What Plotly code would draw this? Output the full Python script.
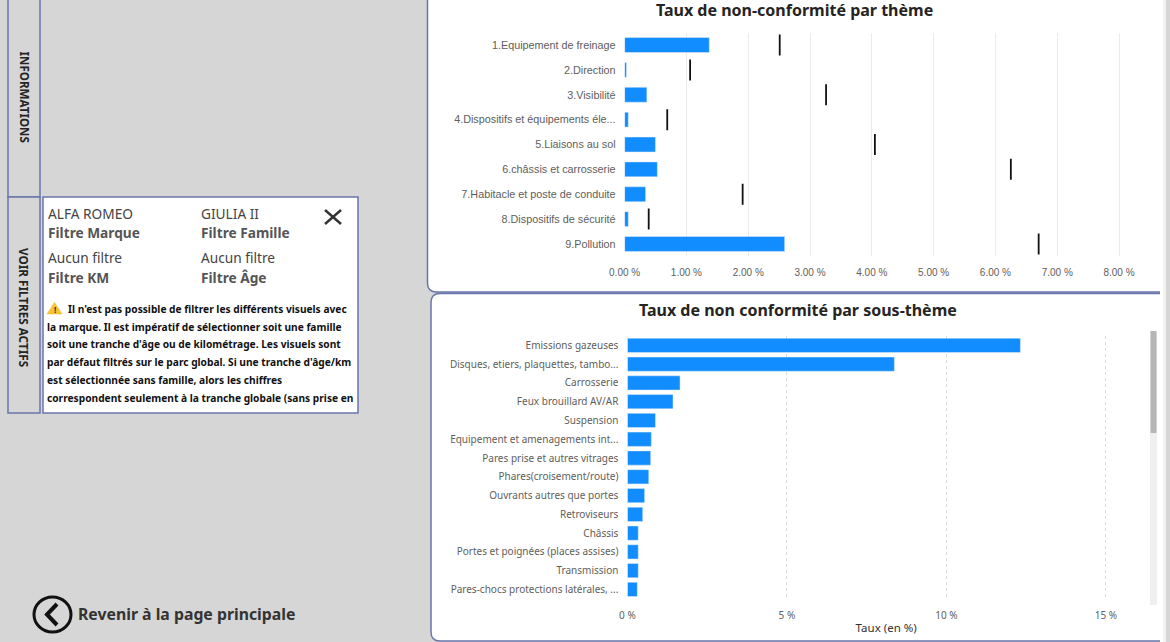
import plotly.graph_objects as go

W, H = 1170, 642

# --- data ---
themes = ["1.Equipement de freinage", "2.Direction", "3.Visibilité",
          "4.Dispositifs et équipements éle...", "5.Liaisons au sol",
          "6.châssis et carrosserie", "7.Habitacle et poste de conduite",
          "8.Dispositifs de sécurité", "9.Pollution"]
theme_rate = [1.37, 0.03, 0.36, 0.06, 0.50, 0.53, 0.34, 0.06, 2.59]
theme_reference = [2.51, 1.06, 3.26, 0.69, 4.05, 6.25, 1.91, 0.39, 6.70]
theme_ticks = [0, 1, 2, 3, 4, 5, 6, 7, 8]
theme_ticklabels = ["0.00 %", "1.00 %", "2.00 %", "3.00 %", "4.00 %", "5.00 %", "6.00 %", "7.00 %", "8.00 %"]

subthemes = ["Emissions gazeuses", "Disques, etiers, plaquettes, tambo...", "Carrosserie",
             "Feux brouillard AV/AR", "Suspension", "Equipement et amenagements int...",
             "Pares prise et autres vitrages", "Phares(croisement/route)",
             "Ouvrants autres que portes", "Retroviseurs", "Châssis",
             "Portes et poignées (places assises)", "Transmission",
             "Pares-chocs protections latérales, ..."]
subtheme_rate = [12.32, 8.37, 1.65, 1.43, 0.88, 0.75, 0.73, 0.67, 0.54, 0.48, 0.34, 0.34, 0.34, 0.31]
subtheme_ticks = [0, 5, 10, 15]
subtheme_ticklabels = ["0 %", "5 %", "10 %", "15 %"]

filter_cells = [("ALFA ROMEO", "Filtre Marque", 46, 213, 232), ("GIULIA II", "Filtre Famille", 199, 213, 232),
                ("Aucun filtre", "Filtre KM", 46, 258, 277), ("Aucun filtre", "Filtre Âge", 199, 258, 277)]
notice_lines = ["Il n'est pas possible de filtrer les différents visuels avec",
                "la marque. Il est impératif de sélectionner soit une famille",
                "soit une tranche d'âge ou de kilométrage. Les visuels sont",
                "par défaut filtrés sur le parc global. Si une tranche d'âge/km",
                "est sélectionnée sans famille, alors les chiffres",
                "correspondent seulement à la tranche globale (sans prise en"]

# --- style ---
BG = "#d6d6d6"
EDGE = "#6a75ab"
BAR = "#118dff"
UI = "Noto Sans"
px = lambda x: x / W
py = lambda y: 1 - y / H

fig = go.Figure()
fig.add_bar(y=themes, x=theme_rate, orientation="h", marker_color=BAR, xaxis="x", yaxis="y", width=0.6)
fig.add_scatter(y=themes, x=theme_reference, mode="markers", xaxis="x", yaxis="y",
                marker=dict(symbol="line-ns", size=15, line=dict(color="#111111", width=1.8)))
fig.add_bar(y=subthemes, x=subtheme_rate, orientation="h", marker_color=BAR, xaxis="x2", yaxis="y2", width=0.76)


def rrect(x0, y0, x1, y1, r):
    return (f"M{px(x0+r)},{py(y0)} L{px(x1-r)},{py(y0)} Q{px(x1)},{py(y0)} {px(x1)},{py(y0+r)} "
            f"L{px(x1)},{py(y1-r)} Q{px(x1)},{py(y1)} {px(x1-r)},{py(y1)} "
            f"L{px(x0+r)},{py(y1)} Q{px(x0)},{py(y1)} {px(x0)},{py(y1-r)} "
            f"L{px(x0)},{py(y0+r)} Q{px(x0)},{py(y0)} {px(x0+r)},{py(y0)} Z")


shapes = []
def path(d, fill="rgba(0,0,0,0)", color=EDGE, width=1.5, layer="below"):
    shapes.append(dict(type="path", xref="paper", yref="paper", path=d, fillcolor=fill,
                       line=dict(color=color, width=width), layer=layer))
def box(x0, y0, x1, y1, fill, color=EDGE, width=1.5, layer="below"):
    shapes.append(dict(type="rect", xref="paper", yref="paper", x0=px(x0), x1=px(x1), y0=py(y0), y1=py(y1),
                       fillcolor=fill, line=dict(color=color, width=width), layer=layer))
def seg(x0, y0, x1, y1, color, width):
    shapes.append(dict(type="line", xref="paper", yref="paper", x0=px(x0), x1=px(x1), y0=py(y0), y1=py(y1),
                       line=dict(color=color, width=width), layer="above"))

# panels
path(rrect(427.5, -14, 1175, 292, 9), "white")
path(rrect(431, 293.5, 1175, 641, 9), "white")
# right-hand page edge
box(1160, -2, 1163, 644, "white", "white", 0)
box(1163, -2, 1166, 644, "#f2f2f2", "#f2f2f2", 0)
box(1166, -2, 1172, 644, BG, BG, 0)
box(8, -4, 40, 197, BG)
box(8, 197, 40, 413, BG)
box(43, 197, 358, 413, "white")
# scrollbar
box(1150, 331, 1157, 605, "#efefef", "#efefef", 0)
box(1150.5, 331, 1156.5, 433, "#b5b5b5", "#b5b5b5", 0, "above")
# close cross
seg(325, 210, 341, 224, "#333333", 2.4)
seg(341, 210, 325, 224, "#333333", 2.4)
# warning triangle
path(f"M{px(54.5)},{py(302.5)} L{px(62)},{py(314)} L{px(47)},{py(314)} Z", "#f7c531", "#f0b429", 0.5, "above")
# back button
shapes.append(dict(type="circle", xref="paper", yref="paper", x0=px(34), x1=px(71), y0=py(632), y1=py(597),
                   line=dict(color="#111111", width=3), fillcolor="rgba(0,0,0,0)"))
path(f"M{px(57)},{py(604)} L{px(47)},{py(614.5)} L{px(57)},{py(625)}", color="#111111", width=4, layer="above")
fig.update_layout(shapes=shapes)

ann = []
def text(x, y, s, size, color="#252423", family=UI, bold=False, xanchor="left", angle=0):
    ann.append(dict(xref="paper", yref="paper", x=px(x), y=py(y), text=f"<b>{s}</b>" if bold else s,
                    showarrow=False, xanchor=xanchor, yanchor="middle", textangle=angle,
                    font=dict(size=size, color=color, family=family)))

text(794, 9.5, "Taux de non-conformité par thème", 16, bold=True, xanchor="center")
text(797.5, 310, "Taux de non conformité par sous-thème", 16, bold=True, xanchor="center")
text(24, 96.5, "INFORMATIONS", 11.6, "#252423", bold=True, xanchor="center", angle=90)
text(24, 307, "VOIR FILTRES ACTIFS", 11.7, "#252423", bold=True, xanchor="center", angle=90)
for value, label, x, y0, y1 in filter_cells:
    text(x, y0, value, 13.7, "#444444")
    text(x, y1, label, 13.7, "#555555", bold=True)
text(54.5, 309.5, "!", 8, "#333333", bold=True, xanchor="center")
for i, line in enumerate(notice_lines):
    text(66 if i == 0 else 45, 309 + i * 17.7, line, 10.2, "#111111", bold=True)
text(76, 614, "Revenir à la page principale", 15.8, "#333333", bold=True)

ylab_font = dict(size=10.8, color="#605e5c", family="Liberation Sans")
xlab_font = dict(size=10, color="#605e5c", family="Liberation Sans")
sub_font = dict(size=10, color="#605e5c", family=UI)


def dom_x(a, b):
    return [px(a), px(b)]


def dom_y(top, bottom):
    return [py(bottom), py(top)]


fig.update_layout(
    width=W, height=H, autosize=False, margin=dict(l=0, r=0, t=0, b=0, autoexpand=False),
    paper_bgcolor=BG, plot_bgcolor="rgba(0,0,0,0)", showlegend=False,
    annotations=ann,
    xaxis=dict(domain=dom_x(624.6, 1145), range=[0, (1145 - 624.6) / 61.8], tickvals=theme_ticks,
               ticktext=theme_ticklabels, tickfont=xlab_font, showgrid=True, gridcolor="#ebebeb", gridwidth=1,
               zeroline=False, showline=False, ticks="", ticklabelstandoff=9, anchor="y", automargin=False),
    yaxis=dict(domain=dom_y(32.6, 256.4), categoryorder="array", categoryarray=themes, range=[8.5, -0.5],
               tickfont=ylab_font, showgrid=False, zeroline=False, showline=False, ticks="", ticklabelstandoff=8,
               anchor="x", automargin=False),
    xaxis2=dict(domain=dom_x(627.4, 1145), range=[0, (1145 - 627.4) / 31.9], tickvals=subtheme_ticks,
                ticktext=subtheme_ticklabels, tickfont=sub_font, showgrid=True, griddash="dot", gridcolor="#dcdcdc",
                gridwidth=1, zeroline=False, showline=False, ticks="", ticklabelstandoff=9, anchor="y2", automargin=False,
                title=dict(text="Taux (en %)", font=dict(size=11.5, color="#333333", family=UI), standoff=3)),
    yaxis2=dict(domain=dom_y(336, 598.8), categoryorder="array", categoryarray=subthemes, range=[13.5, -0.5],
                tickfont=sub_font, showgrid=False, zeroline=False, showline=False, ticks="", ticklabelstandoff=8,
                anchor="x2", automargin=False),
)

fig.write_html("out.html", config={"displayModeBar": False},
               post_script="document.body.style.margin='0';document.body.style.overflow='hidden';")
